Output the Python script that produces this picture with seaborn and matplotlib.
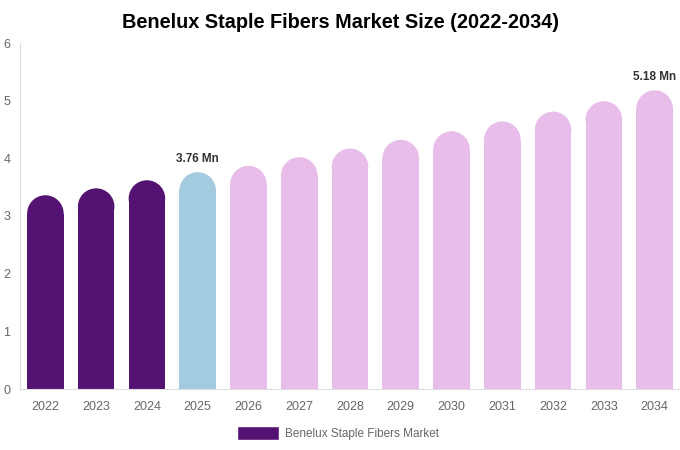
import matplotlib
matplotlib.use("Agg")
import matplotlib.pyplot as plt
import seaborn as sns
import pandas as pd
from matplotlib.patches import Rectangle, Ellipse, Patch

# data
years = ["2022", "2023", "2024", "2025", "2026", "2027", "2028",
         "2029", "2030", "2031", "2032", "2033", "2034"]
sizes = [3.36, 3.48, 3.62, 3.76, 3.87, 4.02, 4.17, 4.32, 4.47, 4.64, 4.81, 4.99, 5.18]
labelled = {"2025": "3.76 Mn", "2034": "5.18 Mn"}

dark = "#541273"
blue = "#a3cbe0"
pink = "#e8bde9"
colors = [dark] * 3 + [blue] + [pink] * 9

df = pd.DataFrame({"year": years, "size": sizes})

sns.set_style("white")
plt.rcParams["font.family"] = ["Liberation Sans", "DejaVu Sans"]

fig = plt.figure(figsize=(6.8, 4.5), dpi=100)
ax = fig.add_axes([20 / 680, 1 - 389 / 450, 660 / 680, (389 - 43) / 450])

sns.barplot(data=df, x="year", y="size", hue="year", palette=colors,
            width=0.72, saturation=1, legend=False, ax=ax)

ax.set_xlim(-0.5, 12.5)
ax.set_ylim(0, 6)

# swap the square bars for round-topped ones
fig.canvas.draw()
px_x = ax.transData.transform((1, 0))[0] - ax.transData.transform((0, 0))[0]
px_y = ax.transData.transform((0, 1))[1] - ax.transData.transform((0, 0))[1]
for bar in list(ax.patches):
    x0, w, h = bar.get_x(), bar.get_width(), bar.get_height()
    col = bar.get_facecolor()
    r = (w / 2) * px_x / px_y
    bar.set_visible(False)
    ax.add_patch(Rectangle((x0, 0), w, h - r, facecolor=col, edgecolor="none"))
    ax.add_patch(Ellipse((x0 + w / 2, h - r), w, 2 * r, facecolor=col, edgecolor="none"))

for i, y in enumerate(years):
    if y in labelled:
        ax.text(i, sizes[i] + 0.12, labelled[y], ha="center", va="bottom",
                fontsize=8.5, fontweight="bold", color="#333333")

ax.set_yticks(range(7))
ax.tick_params(axis="both", length=0, labelsize=9, labelcolor="#666666")
ax.tick_params(axis="y", pad=7)
ax.tick_params(axis="x", pad=9)
ax.set_xlabel("")
ax.set_ylabel("")

sns.despine(ax=ax, top=True, right=True)
ax.spines["left"].set_color("#dddddd")
ax.spines["bottom"].set_color("#dddddd")

fig.suptitle("Benelux Staple Fibers Market Size (2022-2034)", x=0.5, y=0.972,
             fontsize=14.3, fontweight="bold", color="#000000")

fig.legend(handles=[Patch(facecolor=dark, label="Benelux Staple Fibers Market")],
           loc="center", bbox_to_anchor=(0.497, 1 - 433 / 450), frameon=False,
           fontsize=8.5, labelcolor="#666666", handlelength=3.6, handleheight=1.4,
           handletextpad=0.5)

fig.savefig("out.png", dpi=100)
